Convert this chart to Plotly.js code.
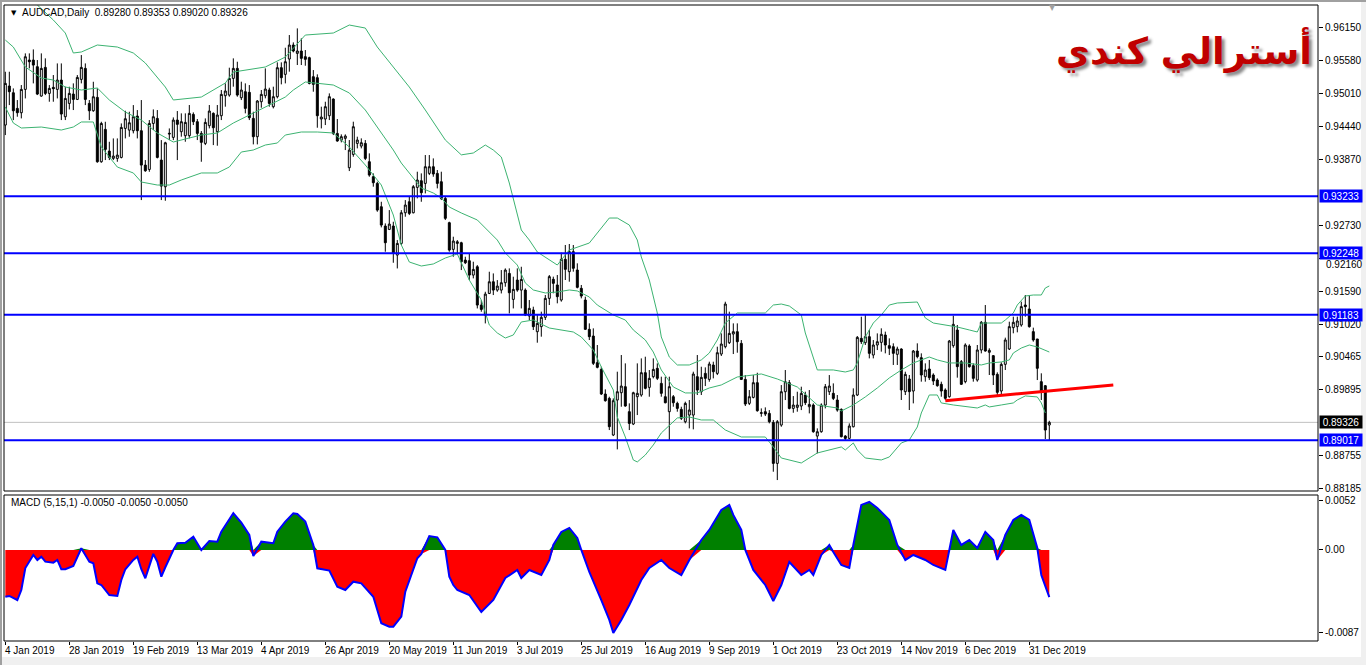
<!DOCTYPE html>
<html><head><meta charset="utf-8">
<script src="https://cdn.plot.ly/plotly-3.0.1.min.js"></script>
<style>html,body{margin:0;padding:0;background:#fff;overflow:hidden}#chart{width:1366px;height:665px}</style>
</head><body><div id="chart"></div>
<script>
// ---- tick labels ----
const dateLabels = ["4 Jan 2019","28 Jan 2019","19 Feb 2019","13 Mar 2019","4 Apr 2019","26 Apr 2019","20 May 2019","11 Jun 2019","3 Jul 2019","25 Jul 2019","16 Aug 2019","9 Sep 2019","1 Oct 2019","23 Oct 2019","14 Nov 2019","6 Dec 2019","31 Dec 2019"];
const dateLabelBars = [0,16,32,48,64,80,96,112,128,144,160,176,192,208,224,240,256];
const priceTicks = [0.96150,0.95580,0.95010,0.94440,0.93870,0.92730,0.92160,0.91590,0.91020,0.90465,0.89895,0.88755,0.88185];
const shiftedPriceTick = 0.92160;   // partly hidden under the 0.92248 box in the original
const macdTicks = [0.0052,0,-0.0087];
const macdTickText = ["0.0052","0.00","-0.0087"];

// ---- daily candles ----
const open = [
0.94462,0.95136,0.95020,0.94750,0.94675,0.95078,0.95585,0.95585,0.95470,0.94963,
0.95458,0.95009,0.95113,0.95078,0.95239,0.94606,0.94836,0.94997,0.94905,0.95251,
0.95441,0.94836,0.94709,0.94940,0.93828,0.94387,0.94012,0.93886,0.93886,0.93903,
0.94404,0.94375,0.94364,0.94617,0.94364,0.93770,0.93695,0.94490,0.94577,0.93857,
0.93396,0.94306,0.94249,0.94548,0.94347,0.94278,0.94278,0.94646,0.94520,0.94318,
0.94145,0.94451,0.94664,0.94347,0.94623,0.94969,0.94980,0.95268,0.95441,0.94934,
0.95038,0.95027,0.94577,0.94261,0.94865,0.94969,0.95067,0.94779,0.94952,0.95453,
0.95338,0.95603,0.95844,0.95700,0.95741,0.95643,0.95626,0.95297,0.95280,0.94566,
0.94566,0.94623,0.94911,0.94318,0.94203,0.94232,0.93725,0.93955,0.94145,0.94099,
0.94145,0.93829,0.93569,0.93454,0.93051,0.92717,0.92659,0.92717,0.92216,0.92417,
0.92947,0.93137,0.92947,0.93385,0.93500,0.93454,0.93627,0.93742,0.93627,0.93483,
0.93195,0.92775,0.92314,0.92417,0.92429,0.92129,0.92118,0.91870,0.92014,0.91352,
0.91179,0.91553,0.91755,0.91611,0.91611,0.91738,0.91899,0.91450,0.91784,0.91611,
0.91611,0.91163,0.91267,0.90892,0.90979,0.91140,0.91468,0.91797,0.91699,0.91439,
0.92142,0.91929,0.92275,0.91958,0.91641,0.91439,0.90933,0.90817,0.90357,0.90241,
0.89815,0.89740,0.89107,0.89711,0.89838,0.89942,0.89510,0.89297,0.89769,0.89798,
0.90184,0.89930,0.90115,0.90259,0.89999,0.89769,0.89510,0.89769,0.89654,0.89550,
0.89337,0.89452,0.89452,0.90115,0.89855,0.90172,0.90068,0.90316,0.90172,0.90506,
0.90633,0.90702,0.90852,0.90892,0.90690,0.90068,0.89654,0.89757,0.90011,0.89481,
0.89510,0.89481,0.89325,0.88617,0.89279,0.89855,0.90011,0.89567,0.89585,0.89608,
0.89798,0.89596,0.89625,0.89089,0.89164,0.89625,0.89855,0.89827,0.89711,0.89550,
0.89089,0.89049,0.89250,0.89798,0.90777,0.90702,0.90806,0.90489,0.90662,0.90708,
0.90835,0.90651,0.90633,0.90501,0.90593,0.89856,0.90075,0.89867,0.90558,0.90443,
0.90115,0.90247,0.90144,0.90057,0.89983,0.89885,0.89769,0.90651,0.90921,0.90374,
0.90029,0.90645,0.90305,0.90057,0.90576,0.91054,0.90536,0.90478,0.90155,0.89867,
0.90328,0.90593,0.90962,0.90979,0.91008,0.91353,0.91284,0.90893,0.90766,0.90029,
0.89959,0.89280];
const high = [
0.95383,0.95383,0.95095,0.94894,0.95153,0.95700,0.95700,0.95769,0.95585,0.95700,
0.95614,0.95153,0.95326,0.95527,0.95527,0.95124,0.95124,0.95182,0.95326,0.95671,
0.95527,0.94894,0.95210,0.95095,0.94519,0.94519,0.94173,0.94231,0.94231,0.94490,
0.94709,0.94692,0.94807,0.94721,0.94894,0.93857,0.94548,0.94732,0.94721,0.94202,
0.94173,0.94404,0.94594,0.94704,0.94664,0.94664,0.94808,0.94681,0.94566,0.94358,
0.94577,0.94808,0.94681,0.94808,0.95067,0.95182,0.95453,0.95614,0.95556,0.95211,
0.95182,0.95153,0.94692,0.94894,0.95067,0.95441,0.95107,0.95125,0.95545,0.95545,
0.95798,0.96017,0.95890,0.96132,0.95960,0.95758,0.95643,0.95412,0.95338,0.94779,
0.94865,0.95009,0.94923,0.94566,0.94301,0.94301,0.94203,0.94520,0.94261,0.94232,
0.94203,0.93973,0.93627,0.93483,0.93137,0.92763,0.92993,0.92792,0.92475,0.92993,
0.93166,0.93224,0.93425,0.93656,0.93627,0.93944,0.93944,0.93886,0.93685,0.93656,
0.93224,0.92792,0.92533,0.92475,0.92446,0.92187,0.92245,0.92101,0.92043,0.91438,
0.91582,0.91928,0.91899,0.91784,0.91957,0.91986,0.91986,0.91842,0.91986,0.92014,
0.91640,0.91439,0.91324,0.91180,0.91238,0.91526,0.91871,0.91843,0.91871,0.92257,
0.92390,0.92407,0.92390,0.92073,0.91699,0.91497,0.91036,0.90950,0.90662,0.90287,
0.89896,0.89769,0.89740,0.90201,0.90489,0.90345,0.89654,0.89855,0.90345,0.90431,
0.90460,0.90230,0.90431,0.90345,0.90115,0.90115,0.90115,0.89798,0.89683,0.89596,
0.89683,0.89711,0.90201,0.90489,0.90287,0.90276,0.90374,0.90374,0.90633,0.90863,
0.91410,0.91238,0.91036,0.91036,0.90748,0.90143,0.89884,0.90143,0.90183,0.89567,
0.89585,0.89538,0.89366,0.89366,0.89970,0.90230,0.90057,0.89780,0.89855,0.89942,
0.89855,0.89884,0.89654,0.89222,0.89654,0.89988,0.90143,0.89999,0.89798,0.89567,
0.89106,0.89308,0.89913,0.90817,0.91151,0.91180,0.90921,0.90748,0.90863,0.90950,
0.90893,0.90777,0.90691,0.90633,0.90605,0.90201,0.90144,0.90576,0.90691,0.90518,
0.90345,0.90403,0.90173,0.90086,0.90029,0.89913,0.90749,0.91169,0.91008,0.90403,
0.90691,0.90674,0.90345,0.90662,0.91077,0.91353,0.90605,0.90489,0.90190,0.90363,
0.90789,0.91065,0.91152,0.91152,0.91411,0.91526,0.91526,0.90962,0.90766,0.90173,
0.89971,0.89353];
const low = [
0.94289,0.94807,0.94548,0.94606,0.94577,0.94922,0.95441,0.95182,0.94980,0.94951,
0.94980,0.94865,0.94865,0.94922,0.94548,0.94548,0.94732,0.94721,0.94894,0.95182,
0.94807,0.94548,0.94692,0.93811,0.93811,0.93857,0.93857,0.93857,0.93828,0.93886,
0.94231,0.94260,0.94318,0.94231,0.93166,0.93655,0.93655,0.94375,0.93886,0.93166,
0.93154,0.94202,0.94202,0.93857,0.94261,0.94174,0.94232,0.94462,0.94203,0.93828,
0.94116,0.94404,0.94116,0.94105,0.94548,0.94779,0.94952,0.95125,0.94952,0.94894,
0.94664,0.94548,0.94128,0.94128,0.94762,0.94923,0.94779,0.94750,0.94923,0.95165,
0.95182,0.95384,0.95718,0.95499,0.95499,0.95487,0.95165,0.95038,0.94416,0.94404,
0.94462,0.94548,0.94289,0.94174,0.94163,0.94030,0.93667,0.93915,0.94059,0.94059,
0.93857,0.93569,0.93397,0.92964,0.92694,0.92274,0.92648,0.92083,0.91985,0.92389,
0.92878,0.92907,0.92936,0.93195,0.93137,0.93281,0.93598,0.93569,0.93368,0.93166,
0.92821,0.92274,0.92187,0.92245,0.91957,0.92060,0.91784,0.91813,0.91294,0.91237,
0.91035,0.91542,0.91525,0.91582,0.91553,0.91669,0.91208,0.91294,0.91582,0.91294,
0.91162,0.91094,0.90921,0.90702,0.90806,0.91094,0.91353,0.91555,0.91382,0.91411,
0.91785,0.91756,0.91929,0.91641,0.91468,0.90921,0.90748,0.90316,0.90259,0.89798,
0.89683,0.89193,0.89089,0.88859,0.89596,0.89596,0.89193,0.89279,0.89452,0.89769,
0.89896,0.89769,0.90086,0.90057,0.89769,0.89654,0.89020,0.89596,0.89510,0.89366,
0.89308,0.89222,0.89205,0.89798,0.89798,0.89953,0.90028,0.90086,0.90143,0.90472,
0.90604,0.90679,0.90506,0.90529,0.90057,0.89608,0.89625,0.89740,0.89510,0.89423,
0.89435,0.89308,0.88473,0.88329,0.89250,0.89711,0.89550,0.89492,0.89510,0.89538,
0.89625,0.89481,0.89147,0.88790,0.89147,0.89567,0.89798,0.89711,0.89510,0.89066,
0.89008,0.89032,0.89239,0.89780,0.90679,0.90662,0.90431,0.90431,0.90575,0.90547,
0.90518,0.90489,0.90317,0.90317,0.89712,0.89798,0.89539,0.89654,0.90432,0.90029,
0.90029,0.90057,0.89971,0.89942,0.89769,0.89712,0.89752,0.90616,0.90098,0.89971,
0.90000,0.90271,0.90029,0.90029,0.90518,0.90547,0.90144,0.89971,0.89798,0.89798,
0.90230,0.90576,0.90864,0.90881,0.90979,0.91152,0.90962,0.90720,0.90057,0.89712,
0.89038,0.89020];
const close = [
0.95182,0.95038,0.94709,0.94675,0.95078,0.95642,0.95556,0.95498,0.94997,0.95441,
0.95009,0.95095,0.95090,0.95239,0.94652,0.94922,0.95009,0.94905,0.95285,0.95458,
0.94905,0.94709,0.94951,0.93828,0.94490,0.94041,0.93903,0.93926,0.93943,0.94421,
0.94571,0.94502,0.94606,0.94364,0.93770,0.93672,0.94490,0.94606,0.93903,0.93407,
0.94156,0.94318,0.94548,0.94474,0.94520,0.94508,0.94664,0.94520,0.94318,0.94163,
0.94508,0.94704,0.94416,0.94635,0.94992,0.95050,0.95268,0.95441,0.94980,0.95067,
0.94750,0.94589,0.94261,0.94877,0.94992,0.95084,0.94836,0.94952,0.95453,0.95280,
0.95556,0.95844,0.95741,0.95741,0.95614,0.95597,0.95182,0.95165,0.94623,0.94600,
0.94779,0.94952,0.94318,0.94186,0.94261,0.94272,0.94030,0.94433,0.94203,0.94157,
0.93886,0.93598,0.93466,0.92993,0.92734,0.92429,0.92751,0.92245,0.92417,0.92947,
0.93080,0.92936,0.93397,0.93512,0.93293,0.93742,0.93742,0.93616,0.93454,0.93195,
0.92850,0.92302,0.92458,0.92446,0.92101,0.92083,0.91870,0.91968,0.91352,0.91277,
0.91542,0.91755,0.91611,0.91680,0.91738,0.91957,0.91565,0.91623,0.91611,0.91795,
0.91179,0.91295,0.90979,0.91036,0.91140,0.91468,0.91843,0.91727,0.91497,0.92142,
0.91969,0.92275,0.91987,0.91658,0.91508,0.90933,0.90806,0.90345,0.90276,0.89815,
0.89700,0.89251,0.89700,0.89855,0.89953,0.89608,0.89308,0.89838,0.89827,0.90184,
0.89913,0.90086,0.90241,0.90086,0.89827,0.89665,0.89942,0.89665,0.89567,0.89395,
0.89654,0.89539,0.90161,0.89884,0.90103,0.90086,0.90333,0.90201,0.90529,0.90679,
0.91370,0.90863,0.90892,0.90719,0.90068,0.89642,0.89769,0.90011,0.89527,0.89492,
0.89469,0.89337,0.88617,0.89337,0.89855,0.90028,0.89567,0.89625,0.89625,0.89827,
0.89665,0.89636,0.89164,0.89164,0.89625,0.89942,0.89953,0.89740,0.89538,0.89078,
0.89049,0.89262,0.89798,0.90794,0.90719,0.90806,0.90518,0.90662,0.90719,0.90847,
0.90662,0.90605,0.90518,0.90593,0.89885,0.90155,0.89856,0.90558,0.90461,0.90144,
0.90230,0.90098,0.90040,0.89959,0.89867,0.89741,0.90731,0.91019,0.90288,0.89983,
0.90662,0.90288,0.90086,0.90576,0.91054,0.90558,0.90570,0.90144,0.89844,0.90328,
0.90749,0.90979,0.91054,0.91077,0.91325,0.91325,0.90979,0.90749,0.90259,0.89867,
0.89193,0.89326];

// ---- Bollinger bands (read at sampled bars) ----
const upperBars = [0,4,8,12,15,17,19,23,28,32,35,40,42,49,55,57,65,70,75,82,86,90,93,97,101,105,110,114,117,120,122,124,126,129,131,133,138,141,146,148,151,153,156,158,159,161,163,164,166,168,171,174,176,178,180,183,190,192,194,196,199,200,203,207,210,212,213,215,217,219,221,223,226,228,229,230,232,238,241,243,244,246,249,250,252,253,255,257,259,260,261];
const upperBand = [0.97313,0.96967,0.96536,0.96277,0.96052,0.95707,0.95724,0.95845,0.95810,0.95707,0.95534,0.95119,0.94895,0.94946,0.95188,0.95378,0.95465,0.95637,0.96017,0.96052,0.96190,0.96138,0.95810,0.95465,0.95119,0.94722,0.94204,0.93947,0.93979,0.94117,0.94031,0.93910,0.93461,0.92649,0.92476,0.92269,0.92044,0.92304,0.92424,0.92597,0.92856,0.92856,0.92735,0.92476,0.92183,0.91785,0.91215,0.90801,0.90455,0.90317,0.90317,0.90404,0.90524,0.90749,0.91042,0.91215,0.91215,0.91353,0.91370,0.91336,0.91181,0.90870,0.90231,0.90231,0.90196,0.90231,0.90352,0.90801,0.91042,0.91181,0.91353,0.91388,0.91405,0.91405,0.91267,0.91129,0.91042,0.90973,0.90922,0.90887,0.91042,0.91042,0.91042,0.91094,0.91215,0.91353,0.91509,0.91526,0.91526,0.91647,0.91682];
const middleBars = [0,2,5,9,12,15,19,23,26,30,34,38,42,45,49,53,57,61,65,70,72,75,82,86,90,94,97,99,102,104,107,109,111,114,118,120,123,125,128,130,132,135,138,141,143,146,148,152,155,157,160,162,164,167,170,173,176,179,183,189,193,198,203,208,209,212,215,218,221,224,227,229,231,233,236,240,244,246,249,251,252,254,256,258,261];
const middleBand = [0.95931,0.95810,0.95465,0.95275,0.95240,0.95119,0.95067,0.95102,0.94895,0.94687,0.94549,0.94325,0.94169,0.94221,0.94290,0.94325,0.94497,0.94635,0.94774,0.94946,0.95067,0.95206,0.95154,0.95016,0.94722,0.94325,0.94031,0.93806,0.93547,0.93375,0.93288,0.93202,0.93046,0.92943,0.92822,0.92684,0.92476,0.92252,0.92044,0.91734,0.91613,0.91561,0.91578,0.91613,0.91596,0.91492,0.91353,0.91181,0.91094,0.90922,0.90749,0.90541,0.90231,0.89937,0.89834,0.89834,0.89920,0.89972,0.90110,0.90162,0.90075,0.89937,0.89626,0.89574,0.89522,0.89626,0.89765,0.89920,0.90093,0.90231,0.90352,0.90404,0.90455,0.90404,0.90352,0.90352,0.90317,0.90352,0.90369,0.90404,0.90524,0.90610,0.90662,0.90628,0.90541];
const lowerBars = [0,2,4,9,14,17,19,22,24,28,32,34,38,41,44,49,53,56,59,62,65,68,70,74,78,82,86,90,94,97,99,101,104,107,110,113,116,119,121,123,125,127,129,132,136,139,142,144,147,149,152,153,155,157,158,160,162,164,166,168,171,174,177,180,184,190,192,194,199,203,209,210,212,213,215,219,221,224,226,228,229,231,233,234,237,243,245,246,249,252,253,255,258,259,260];
const lowerBand = [0.94774,0.94497,0.94411,0.94428,0.94376,0.94428,0.94515,0.94515,0.94083,0.93737,0.93634,0.93478,0.93426,0.93426,0.93513,0.93634,0.93634,0.93737,0.93996,0.94031,0.94117,0.94152,0.94290,0.94342,0.94342,0.94325,0.94083,0.93772,0.93426,0.92908,0.92391,0.92096,0.92027,0.92062,0.92165,0.92234,0.91785,0.91440,0.91008,0.90870,0.90783,0.90835,0.91060,0.91094,0.90956,0.90922,0.90887,0.90801,0.90576,0.90283,0.89885,0.89419,0.89073,0.88676,0.88642,0.88762,0.88935,0.89142,0.89281,0.89402,0.89419,0.89367,0.89367,0.89194,0.89073,0.89073,0.88901,0.88710,0.88624,0.88797,0.88901,0.88849,0.88970,0.88849,0.88710,0.88676,0.88728,0.88970,0.89022,0.89246,0.89488,0.89799,0.89799,0.89661,0.89626,0.89574,0.89626,0.89592,0.89626,0.89661,0.89713,0.89782,0.89765,0.89661,0.89488];

// ---- horizontal levels and trend line ----
const levels = [0.93233,0.92248,0.91183,0.89017];
const trendBars = [235,277];
const trendPrices = [0.89701,0.89972];

// ---- MACD (5,15,1), read at sampled bars ----
const macdBars = [0,1,3,4,5,7,8,9,10,12,13,14,15,17,19,21,22,23,24,26,28,29,30,32,33,34,35,37,38,39,40,42,43,45,47,48,49,51,53,54,57,59,61,62,64,67,68,70,72,73,75,77,78,81,83,85,87,89,92,94,96,97,99,100,103,104,106,108,110,111,112,113,116,119,122,125,128,129,131,134,136,137,139,141,143,144,146,149,151,152,154,156,159,161,164,166,169,171,174,176,179,181,182,184,185,187,190,192,194,196,199,201,202,204,206,207,209,211,212,214,216,218,221,223,225,227,230,232,235,236,237,239,241,243,245,247,248,250,252,254,256,258,259,261];
const macdValues = [-0.00495,-0.00487,-0.00530,-0.00424,-0.00191,-0.00053,-0.00106,-0.00071,-0.00124,-0.00134,-0.00106,-0.00204,-0.00204,-0.00169,0.00018,-0.00124,-0.00141,-0.00353,-0.00371,-0.00477,-0.00487,-0.00318,-0.00204,-0.00106,-0.00071,-0.00204,-0.00300,-0.00042,-0.00124,-0.00283,-0.00183,0.00000,0.00071,0.00077,0.00141,0.00071,0.00000,0.00095,0.00088,0.00194,0.00389,0.00289,0.00159,-0.00064,0.00088,0.00071,0.00194,0.00300,0.00389,0.00381,0.00300,0.00053,-0.00194,-0.00219,-0.00389,-0.00424,-0.00336,-0.00353,-0.00495,-0.00776,-0.00812,-0.00812,-0.00706,-0.00442,-0.00088,-0.00042,0.00148,0.00134,0.00000,-0.00283,-0.00371,-0.00424,-0.00477,-0.00657,-0.00530,-0.00297,-0.00212,-0.00297,-0.00212,-0.00265,-0.00106,0.00053,0.00191,0.00233,0.00127,0.00000,-0.00233,-0.00530,-0.00741,-0.00879,-0.00741,-0.00583,-0.00318,-0.00191,-0.00106,-0.00191,-0.00265,-0.00106,0.00106,0.00212,0.00424,0.00477,0.00371,0.00212,0.00000,-0.00212,-0.00371,-0.00540,-0.00371,-0.00127,-0.00265,-0.00212,-0.00265,-0.00053,0.00053,-0.00021,-0.00159,-0.00191,0.00053,0.00477,0.00508,0.00445,0.00318,0.00053,-0.00106,-0.00053,-0.00106,-0.00159,-0.00212,0.00000,0.00212,0.00053,0.00106,0.00021,0.00191,0.00106,-0.00106,0.00159,0.00318,0.00371,0.00318,0.00021,-0.00265,-0.00500];

// ---------------- drawing ----------------
const bars = close.map((_, i) => i);
const last = close.length - 1;
const f5 = v => v.toFixed(5);
const f4 = v => v.toFixed(4);
const FONT = "Liberation Sans, Arial, sans-serif";

const W = 1366, H = 665, ML = 4, MR = 48, MT = 5, MB = 24;
const PW = W - ML - MR, PH = H - MT - MB;
const py = p => (H - MB - p) / PH;
const px = p => (p - ML) / PW;

const bandLine = {color: '#3cb371', width: 1};
const traces = [
  {type:'scatter', mode:'lines', x: upperBars, y: upperBand, line: bandLine, xaxis:'x', yaxis:'y', hoverinfo:'skip'},
  {type:'scatter', mode:'lines', x: middleBars, y: middleBand, line: bandLine, xaxis:'x', yaxis:'y', hoverinfo:'skip'},
  {type:'scatter', mode:'lines', x: lowerBars, y: lowerBand, line: bandLine, xaxis:'x', yaxis:'y', hoverinfo:'skip'},
  {type:'candlestick', x: bars, open: open, high: high, low: low, close: close, xaxis:'x', yaxis:'y',
   increasing: {line: {color:'#000000', width:1}, fillcolor:'#ffffff'},
   decreasing: {line: {color:'#000000', width:1}, fillcolor:'#000000'},
   whiskerwidth: 0, hoverinfo:'skip'},
  {type:'scatter', mode:'lines', x: trendBars, y: trendPrices, line: {color:'#ff0000', width:3}, xaxis:'x', yaxis:'y', hoverinfo:'skip'},
  {type:'scatter', mode:'lines', x: macdBars, y: macdValues.map(v => v < 0 ? v : 0), fill:'tozeroy', fillcolor:'#ff0000', line:{width:0, color:'#ff0000'}, xaxis:'x', yaxis:'y2', hoverinfo:'skip'},
  {type:'scatter', mode:'lines', x: macdBars, y: macdValues.map(v => v > 0 ? v : 0), fill:'tozeroy', fillcolor:'#008000', line:{width:0, color:'#008000'}, xaxis:'x', yaxis:'y2', hoverinfo:'skip'},
  {type:'scatter', mode:'lines', x: macdBars, y: macdValues, line:{color:'#0000ff', width:2}, xaxis:'x', yaxis:'y2', hoverinfo:'skip'}
];

const mainDom = [py(491), 1];
const macdDom = [0, py(495)];

const shapes = [];
shapes.push({type:'rect', xref:'paper', yref:'paper', x0:px(0), x1:px(W), y0:py(H), y1:py(657), fillcolor:'#f0f0f0', line:{width:0}, layer:'below'});
shapes.push({type:'rect', xref:'paper', yref:'paper', x0:px(1361), x1:px(W), y0:py(H), y1:py(0), fillcolor:'#f0f0f0', line:{width:0}, layer:'below'});
shapes.push({type:'rect', xref:'paper', yref:'paper', x0:px(0), x1:px(W), y0:py(2), y1:py(0), fillcolor:'#a0a0a0', line:{width:0}, layer:'below'});
shapes.push({type:'rect', xref:'paper', yref:'paper', x0:px(0), x1:px(2), y0:py(H), y1:py(0), fillcolor:'#a0a0a0', line:{width:0}, layer:'below'});
shapes.push({type:'line', xref:'paper', yref:'y', x0:0, x1:1, y0:close[last], y1:close[last], line:{color:'#c0c0c0', width:1}, layer:'below'});
levels.forEach(v => shapes.push({type:'line', xref:'paper', yref:'y', x0:0, x1:1, y0:v, y1:v, line:{color:'#0000ff', width:2}}));
shapes.push({type:'rect', xref:'paper', yref:'paper', x0:0, x1:1, y0:mainDom[0], y1:mainDom[1], line:{color:'#000000', width:1}});
shapes.push({type:'rect', xref:'paper', yref:'paper', x0:0, x1:1, y0:macdDom[0], y1:macdDom[1], line:{color:'#000000', width:1}});

const annotations = [];
dateLabels.forEach((t, i) => annotations.push({
  x: dateLabelBars[i], xref:'x', y: 0, yref:'paper', yanchor:'top', xanchor:'left', yshift:-2, xshift:-2,
  text: t, showarrow:false, font:{family:FONT, size:10, color:'#000'}
}));
// the price label that sits just under the 0.92248 box
annotations.push({x: 1, xref:'paper', y: shiftedPriceTick, yref:'y', xanchor:'left', yanchor:'middle', xshift:6, yshift:-6,
  text: f5(shiftedPriceTick), showarrow:false, font:{family:FONT, size:10, color:'#000'}});
levels.forEach(v => annotations.push({
  x: 1, xref:'paper', y: v, yref:'y', xanchor:'left', yanchor:'middle', xshift:1,
  text: f5(v), showarrow:false, bgcolor:'#0000ff', width:40, height:10, borderpad:1,
  font:{family:FONT, size:10, color:'#ffffff'}
}));
annotations.push({
  x: 1, xref:'paper', y: close[last], yref:'y', xanchor:'left', yanchor:'middle', xshift:1,
  text: f5(close[last]), showarrow:false, bgcolor:'#000000', width:40, height:10, borderpad:1,
  font:{family:FONT, size:10, color:'#ffffff'}
});
annotations.push({x: px(9), xref:'paper', y: py(13), yref:'paper', xanchor:'left', yanchor:'middle', showarrow:false,
  text:'▼', font:{family:'DejaVu Sans', size:7, color:'#000'}});
annotations.push({x: px(20), xref:'paper', y: py(13), yref:'paper', xanchor:'left', yanchor:'middle', showarrow:false,
  text:'AUDCAD,Daily  ' + [open[last], high[last], low[last], close[last]].map(f5).join(' '),
  font:{family:FONT, size:10, color:'#000'}});
const mv = macdValues[macdValues.length - 1];
annotations.push({x: px(9), xref:'paper', y: py(503), yref:'paper', xanchor:'left', yanchor:'middle', showarrow:false,
  text:'MACD (5,15,1) ' + [mv, mv, mv].map(f4).join(' '),
  font:{family:FONT, size:10, color:'#000'}});
annotations.push({x: px(1052), xref:'paper', y: py(1), yref:'paper', xanchor:'center', yanchor:'top', showarrow:false,
  text:'▼', font:{family:'DejaVu Sans', size:8, color:'#a0a0a0'}});
annotations.push({x: px(1184), xref:'paper', y: py(50), yref:'paper', xanchor:'center', yanchor:'middle', showarrow:false,
  text:'<b>أسترالي كندي</b>',
  font:{family:'DejaVu Sans', size:37, color:'#c00000', shadow:'3px 3px 3px #8a8a8a'}});

const layout = {
  width: W, height: H, margin:{l:ML, r:MR, t:MT, b:MB},
  paper_bgcolor:'#ffffff', plot_bgcolor:'#ffffff', showlegend:false,
  xaxis:{range:[-0.33, (1318 - 5.3) / 4], anchor:'y2', showgrid:false, zeroline:false, showline:false,
         tickvals: dateLabelBars, showticklabels:false, ticks:'outside', ticklen:3, tickcolor:'#000',
         rangeslider:{visible:false}, fixedrange:true},
  yaxis:{domain: mainDom, range:[0.88140, 0.96536], side:'right', showgrid:false, zeroline:false, showline:false,
         tickvals: priceTicks, ticktext: priceTicks.map(v => v === shiftedPriceTick ? '' : f5(v)),
         ticks:'outside', ticklen:4, tickcolor:'#000',
         tickfont:{family:FONT, size:10, color:'#000'}, fixedrange:true},
  yaxis2:{domain: macdDom, range:[-0.00964, 0.00582], side:'right', showgrid:false, zeroline:false, showline:false,
         tickvals: macdTicks, ticktext: macdTickText, ticks:'outside', ticklen:4, tickcolor:'#000',
         tickfont:{family:FONT, size:10, color:'#000'}, fixedrange:true},
  shapes: shapes, annotations: annotations
};
Plotly.newPlot('chart', traces, layout, {staticPlot:true, displayModeBar:false});
</script>
</body></html>
